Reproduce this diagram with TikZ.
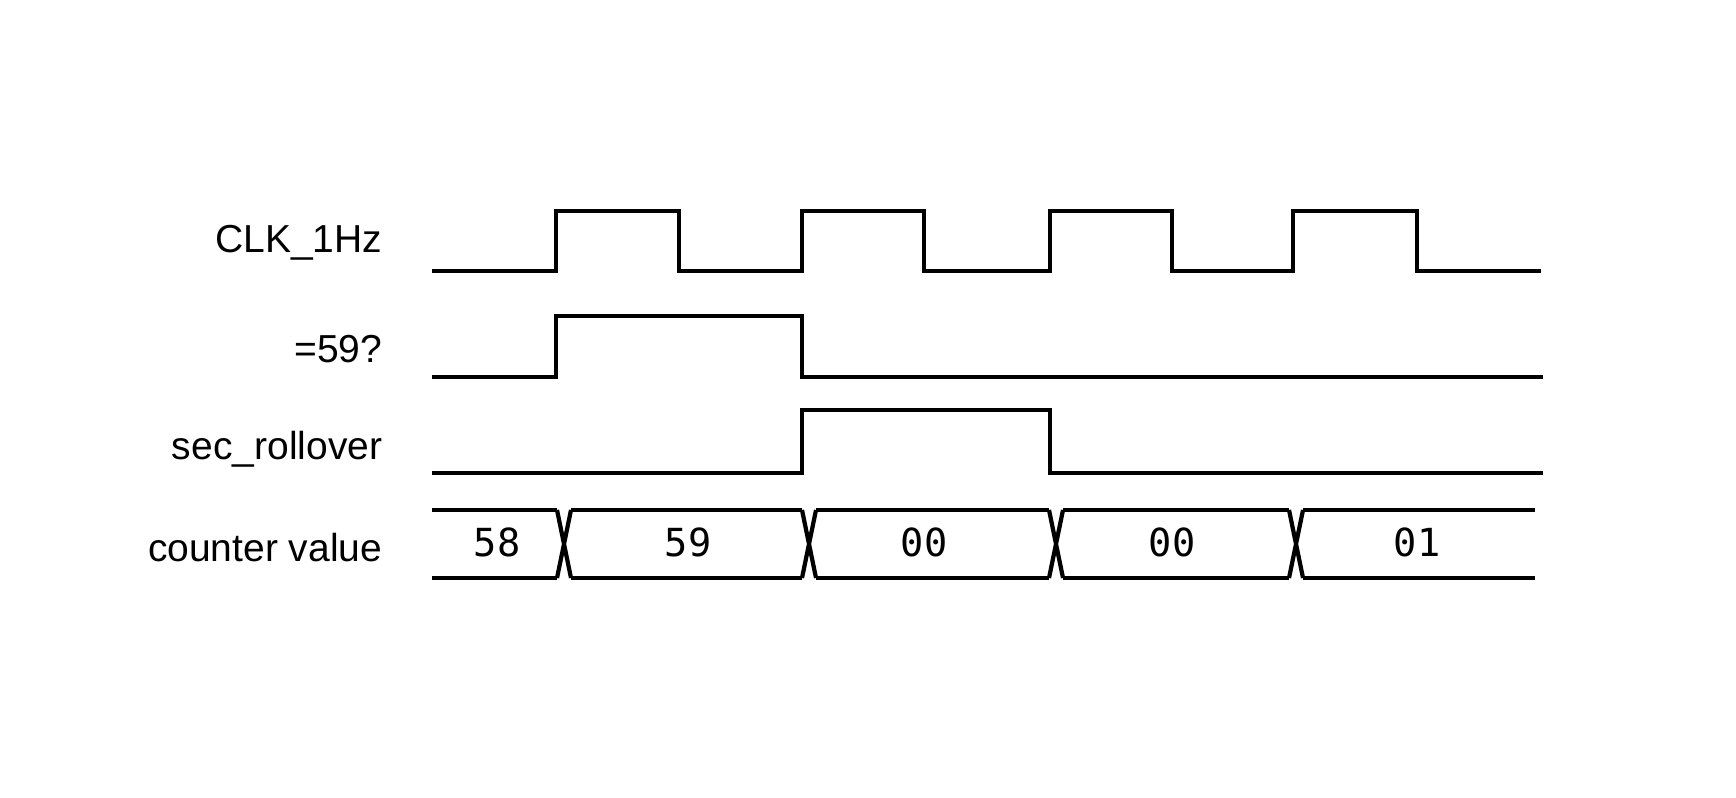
\documentclass[tikz,border=0pt]{standalone}
\usepackage{fontspec}
\setmainfont{Liberation Sans}
\setmonofont{DejaVu Sans Mono}

\tikzset{
  wave/.style={line width=1.2pt},
  siglabel/.style={anchor=base east, inner sep=0pt, font=\fontsize{11.1}{13}\selectfont},
  busval/.style={anchor=base, font=\ttfamily\fontsize{11}{13}\selectfont},
}

\begin{document}
\begin{tikzpicture}
    \useasboundingbox (0,0) rectangle (17.36,7.98);

    \node[siglabel] (lclk) at (3.83,5.45) {CLK\_1Hz};
    \node[siglabel] (leq) at (3.83,4.35) {=59?};
    \node[siglabel] (lroll) at (3.83,3.38) {sec\_rollover};
    \node[siglabel] (lcnt) at (3.83,2.36) {counter value};

    \draw[wave] (4.32,5.27) -- (5.56,5.27) -- (5.56,5.87) -- (6.79,5.87) -- (6.79,5.27)
      -- (8.02,5.27) -- (8.02,5.87) -- (9.24,5.87) -- (9.24,5.27)
      -- (10.50,5.27) -- (10.50,5.87) -- (11.72,5.87) -- (11.72,5.27)
      -- (12.93,5.27) -- (12.93,5.87) -- (14.17,5.87) -- (14.17,5.27) -- (15.41,5.27);
    \draw[wave] (4.32,4.21) -- (5.56,4.21) -- (5.56,4.82) -- (8.02,4.82) -- (8.02,4.21) -- (15.43,4.21);
    \draw[wave] (4.32,3.25) -- (8.02,3.25) -- (8.02,3.88) -- (10.50,3.88) -- (10.50,3.25) -- (15.43,3.25);

    \foreach \a/\b in {4.32/5.57, 5.71/8.02, 8.16/10.49, 10.63/12.89, 13.03/15.35}
      \draw[wave] (\a,2.88) -- (\b,2.88) (\a,2.20) -- (\b,2.20);
    \foreach \c in {5.64,8.09,10.56,12.96}
      \draw[wave] (\c-0.07,2.88) -- (\c+0.07,2.20) (\c+0.07,2.88) -- (\c-0.07,2.20);

    \node[busval] (v58) at (4.97,2.41) {58};
    \node[busval] (v59) at (6.88,2.41) {59};
    \node[busval] (v00a) at (9.24,2.41) {00};
    \node[busval] (v00b) at (11.72,2.41) {00};
    \node[busval] (v01) at (14.17,2.41) {01};
\end{tikzpicture}
\end{document}
